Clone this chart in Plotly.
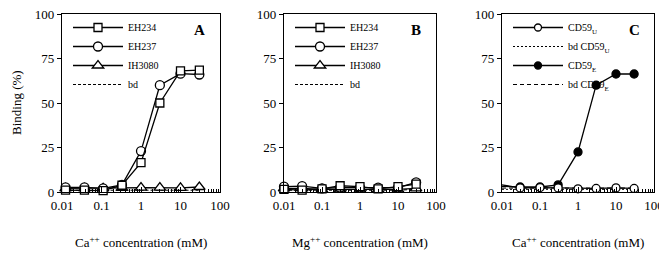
import plotly.graph_objects as go

# ---------------- data ----------------
conc_A = [0.0123, 0.037, 0.11, 0.33, 1, 3, 10, 30]
A_EH234 = [1.0, 1.0, 0.8, 3.8, 16.5, 50, 68, 68.5]
A_EH237 = [2.6, 2.6, 2.0, 4.0, 23, 60, 66.5, 66]
A_IH3080 = [2.0, 2.0, 2.0, 2.3, 2.5, 2.5, 2.3, 2.8]
A_bd = [1.0, 1.0, 1.0, 1.0, 1.0, 1.0, 1.0, 1.0]

conc_B = [0.01, 0.03, 0.1, 0.3, 1, 3, 10, 30]
B_EH234 = [1.5, 1.1, 1.7, 3.5, 3.0, 1.8, 3.0, 4.4]
B_EH237 = [3.0, 3.3, 2.0, 2.5, 2.5, 2.5, 2.5, 5.4]
B_IH3080 = [2.0, 2.0, 1.5, 1.5, 1.5, 1.5, 1.5, 2.0]
B_bd = [1.0, 1.0, 1.0, 1.2, 1.0, 1.0, 1.0, 1.5]

conc_C = [0.01, 0.03, 0.1, 0.3, 1, 3, 10, 30]
C_CD59U = [4.0, 2.3, 2.5, 2.3, 1.8, 2.0, 2.3, 2.0]
C_bdU = [1.5, 1.5, 1.5, 1.5, 1.5, 1.5, 1.5, 1.5]
C_CD59E = [3.2, 2.8, 2.8, 4.0, 22.5, 60, 66.3, 66.3]
C_bdE = [2.2, 2.2, 2.2, 2.2, 2.2, 2.2, 2.2, 2.2]

x_ticks = [0.01, 0.1, 1, 10, 100]
x_ticktext = ["0.01", "0.1", "1", "10", "100"]
y_ticks = [0, 25, 50, 75, 100]
panel_labels = ["A", "B", "C"]
x_titles = ["Ca<sup>++</sup> concentration (mM)",
            "Mg<sup>++</sup> concentration (mM)",
            "Ca<sup>++</sup> concentration (mM)"]
y_title = "Binding (%)"

# ---------------- layout geometry ----------------
W, H = 667, 258
OFF = 8  # page body margin in the browser
FONT = "Liberation Serif, Times New Roman, serif"


def px(x):
    return (x - OFF) / W


def py(y):
    return 1 - (y - OFF) / H


x_domains = [(px(62), px(220)), (px(284), px(436)), (px(502), px(654))]
y_domain = (py(192), py(14))

fig = go.Figure()


def add(panel, x, y, name, legend, rank, symbol=None, fill="white", dash=None,
        sizes=8, lw=1.3):
    xa = "x" if panel == 1 else f"x{panel}"
    ya = "y" if panel == 1 else f"y{panel}"
    if symbol is None:
        fig.add_trace(go.Scatter(
            x=x, y=y, name=name, mode="lines", xaxis=xa, yaxis=ya,
            line=dict(color="black", width=1, dash=dash),
            legend=legend, legendrank=rank, cliponaxis=False))
    else:
        fig.add_trace(go.Scatter(
            x=x, y=y, name=name, mode="lines+markers", xaxis=xa, yaxis=ya,
            line=dict(color="black", width=lw),
            marker=dict(symbol=symbol, size=sizes, color=fill, opacity=1,
                        line=dict(color="black", width=1.3)),
            legend=legend, legendrank=rank, cliponaxis=False))


# Panel A
add(1, conc_A, A_bd, "bd", "legend", 4, dash="3px,2px")
add(1, conc_A, A_IH3080, "IH3080", "legend", 3, symbol="triangle-up", sizes=10)
add(1, conc_A, A_EH237, "EH237", "legend", 2, symbol="circle", sizes=9)
add(1, conc_A, A_EH234, "EH234", "legend", 1, symbol="square", sizes=8)

# Panel B
add(2, conc_B, B_bd, "bd", "legend2", 4, dash="3px,2px")
add(2, conc_B, B_IH3080, "IH3080", "legend2", 3, symbol="triangle-up", sizes=10)
add(2, conc_B, B_EH237, "EH237", "legend2", 2, symbol="circle", sizes=9)
add(2, conc_B, B_EH234, "EH234", "legend2", 1, symbol="square", sizes=8)

# Panel C
sizes_C = [0 if c < 0.02 else 8 for c in conc_C]
add(3, conc_C, C_bdE, "bd CD59<sub>E</sub>", "legend3", 4, dash="4px,3px")
add(3, conc_C, C_bdU, "bd CD59<sub>U</sub>", "legend3", 2, dash="2px,2px")
add(3, conc_C, C_CD59E, "CD59<sub>E</sub>", "legend3", 3, symbol="circle",
    fill="black", sizes=sizes_C)
add(3, conc_C, C_CD59U, "CD59<sub>U</sub>", "legend3", 1, symbol="circle",
    sizes=sizes_C)

minor_vals = [m * 10 ** e for e in range(-2, 2) for m in range(2, 10)]

axis_common = dict(showline=True, linecolor="black", linewidth=1.3,
                   mirror=True, showgrid=False, zeroline=False,
                   automargin=False, ticklabeloverflow="allow")
layout = dict(
    template="none",
    width=W, height=H,
    margin=dict(l=0, r=0, t=0, b=0, pad=0, autoexpand=False),
    paper_bgcolor="white", plot_bgcolor="white",
    font=dict(family=FONT, size=12, color="black"),
    showlegend=True,
)
annotations = []
for i in range(3):
    sfx = "" if i == 0 else str(i + 1)
    layout["xaxis" + sfx] = dict(
        axis_common, type="log", range=[-2, 2], domain=x_domains[i],
        anchor="y" + sfx, tickvals=x_ticks, ticktext=x_ticktext,
        ticks="inside", ticklen=5, tickwidth=1, tickcolor="black",
        ticklabelstandoff=1,
        minor=dict(tickvals=minor_vals, ticks="inside", ticklen=3,
                   tickwidth=1, tickcolor="black", showgrid=False),
        tickfont=dict(family=FONT, size=13))
    layout["yaxis" + sfx] = dict(
        axis_common, range=[0, 100], domain=y_domain, anchor="x" + sfx,
        tickvals=y_ticks, ticks="outside", ticklen=4, tickwidth=1,
        tickcolor="black", tickfont=dict(family=FONT, size=13))
    x0, x1 = x_domains[i]
    annotations.append(dict(
        text=x_titles[i], xref="paper", yref="paper",
        x=(x0 + x1) / 2, y=py(242), xanchor="center", yanchor="middle",
        showarrow=False, font=dict(family=FONT, size=13)))
    annotations.append(dict(
        text="<b>" + panel_labels[i] + "</b>", xref="paper", yref="paper",
        x=x1 - 20 / W, y=py(30), xanchor="center", yanchor="middle",
        showarrow=False, font=dict(family=FONT, size=15)))
    leg = "legend" if i == 0 else "legend" + str(i + 1)
    layout[leg] = dict(
        x=x0 + 6 / W, y=py(13), xanchor="left", yanchor="top",
        bgcolor="rgba(0,0,0,0)", borderwidth=0,
        font=dict(family=FONT, size=10), itemwidth=50,
        traceorder="normal", tracegroupgap=0)

annotations.append(dict(
    text=y_title, xref="paper", yref="paper", x=px(16),
    y=(y_domain[0] + y_domain[1]) / 2, textangle=-90,
    xanchor="center", yanchor="middle", showarrow=False,
    font=dict(family=FONT, size=13)))
layout["annotations"] = annotations

fig.update_layout(**layout)
fig.write_html("out.html")
